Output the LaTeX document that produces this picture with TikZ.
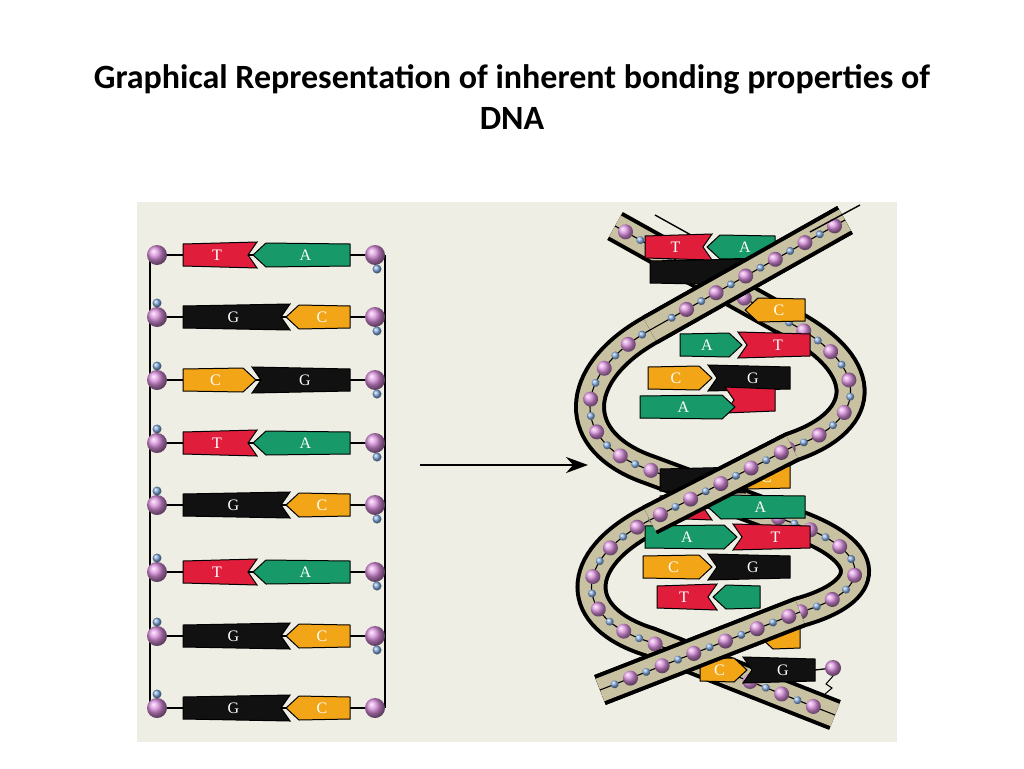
\documentclass[tikz,border=0pt]{standalone}
\usepackage{fontspec}
\setmainfont{Liberation Serif}
\newfontfamily\titlefont{Carlito}
\usetikzlibrary{arrows.meta,decorations.markings}
\definecolor{bg}{HTML}{EEEEE4}
\definecolor{tanr}{HTML}{C8C2A2}
\definecolor{bred}{HTML}{E01E3C}
\definecolor{bgreen}{HTML}{17996A}
\definecolor{borange}{HTML}{F2A516}
\definecolor{bblk}{HTML}{111111}
\definecolor{pinkb}{HTML}{D78CDA}
\definecolor{blueb}{HTML}{7FA6DC}
\tikzset{
 base/.style={draw=black,line width=1pt},
 lt/.style={text=white,font=\fontsize{16}{16}\selectfont},
 sph/.style={ball color=pinkb,draw=none},
 bd/.style={ball color=blueb,draw=none},
 bb/.style={line width=1.3pt,black},
 outer/.style={line width=32pt,black,line cap=butt},
 inner/.style={line width=24pt,tanr,line cap=butt},
 beads/.style={
   postaction={decorate,decoration={markings,
     mark=between positions 12pt and -10pt step 34pt with {\shade[sph] (0,0) circle (7.5);}}},
   postaction={decorate,decoration={markings,
     mark=between positions 29pt and -10pt step 34pt with {\shade[bd] (0,0) circle (4);}}}},
 spine/.style={line width=1.1pt,black}
}
\newcommand\NR[5]{\filldraw[base,fill=#4] (#1,#3-11)--(#2,#3-13)--(#2-9,#3)--(#2,#3+13)--(#1,#3+11)--cycle; \node[lt] at ({(#1+#2)/2-3},#3) {#5};}
\newcommand\NL[5]{\filldraw[base,fill=#4] (#1,#3-13)--(#2,#3-11)--(#2,#3+11)--(#1,#3+13)--(#1+9,#3)--cycle; \node[lt] at ({(#1+#2)/2+4},#3) {#5};}
\newcommand\PL[5]{\filldraw[base,fill=#4] (#1,#3)--(#1+13,#3-12)--(#2,#3-11)--(#2,#3+11)--(#1+13,#3+12)--cycle; \node[lt] at ({(#1+#2)/2+4},#3) {#5};}
\newcommand\PR[5]{\filldraw[base,fill=#4] (#1,#3-11)--(#2-13,#3-12)--(#2,#3)--(#2-13,#3+12)--(#1,#3+11)--cycle; \node[lt] at ({(#1+#2)/2-4},#3) {#5};}
\begin{document}
\begin{tikzpicture}[x=1pt,y=-1pt]
\useasboundingbox (0,0) rectangle (1024,768);
\fill[white] (0,0) rectangle (1024,768);
\node[font=\titlefont\bfseries\fontsize{34}{41}\selectfont,align=center] (title) at (512,97) {Graphical Representation of inherent bonding properties of\\DNA};
\fill[bg] (137,202) rectangle (897,742);
% ---------- left ladder ----------
\draw[bb] (150,255) -- (150,708);
\draw[bb] (385,255) -- (385,708);
\foreach \y in {255,317,380,443,505,572,636,708}{
  \draw[bb] (150,\y)--(350,\y); \draw[bb] (183,\y)--(385,\y);
}
\NR{183}{257}{255}{bred}{T}\PL{253}{350}{255}{bgreen}{A}
\NR{183}{290}{317}{bblk}{G}\PL{286}{350}{317}{borange}{C}
\PR{183}{256}{380}{borange}{C}\NL{252}{350}{380}{bblk}{G}
\NR{183}{257}{443}{bred}{T}\PL{253}{350}{443}{bgreen}{A}
\NR{183}{290}{505}{bblk}{G}\PL{286}{350}{505}{borange}{C}
\NR{183}{257}{572}{bred}{T}\PL{253}{350}{572}{bgreen}{A}
\NR{183}{290}{636}{bblk}{G}\PL{286}{350}{636}{borange}{C}
\NR{183}{290}{708}{bblk}{G}\PL{286}{350}{708}{borange}{C}
\foreach \y in {255,317,380,443,505,572,636,708}{
  \shade[sph] (157,\y) circle (10); \shade[sph] (375,\y) circle (10);
}
\foreach \y in {317,380,443,505,572,636,708}{\shade[bd] (157,\y-14) circle (4.5);}
\foreach \y in {255,317,380,443,505,572,636}{\shade[bd] (377,\y+14) circle (4.5);}
% arrow
\draw[line width=2.5pt,-{Stealth[length=22pt,width=16pt]}] (420,465) -- (588,465);
% ---------- helix: full strands ----------
\def\strA{(845,220) -- (650,330) .. controls (572,374) and (568,442) .. (650,470) -- (790,522) .. controls (878,552) and (872,592) .. (800,612) -- (600,690)}
\def\strB{(615,226) -- (780,318) .. controls (872,362) and (872,420) .. (792,447) -- (650,520) .. controls (572,560) and (572,618) .. (650,642) -- (835,715)}
\draw[line width=1.4pt] (655,215) -- (700,240);
\draw[outer] \strB; \draw[inner] \strB; \draw[spine,beads] \strB;
\draw[outer] \strA; \draw[inner] \strA; \draw[spine,beads] \strA;
% bases
\NR{650}{745}{272}{bblk}{}
\NR{645}{712}{247}{bred}{T}\PL{707}{775}{247}{bgreen}{A}
\PL{745}{805}{310}{borange}{C}
\PR{680}{742}{345}{bgreen}{A}\NL{738}{810}{345}{bred}{T}
\PR{648}{712}{378}{borange}{C}\NL{708}{790}{378}{bblk}{G}
\NL{725}{775}{400}{bred}{}
\PR{640}{735}{407}{bgreen}{A}
\NR{660}{745}{480}{bblk}{}
\PL{735}{790}{477}{borange}{C}
\NR{660}{712}{507}{bred}{T}\PL{708}{805}{507}{bgreen}{A}
\PR{645}{737}{537}{bgreen}{A}\NL{733}{810}{537}{bred}{T}
\PR{643}{712}{567}{borange}{C}\NL{708}{790}{567}{bblk}{G}
\NR{657}{717}{597}{bred}{T}\PL{713}{760}{597}{bgreen}{}
\PL{760}{800}{637}{borange}{}
\PR{700}{747}{670}{borange}{C}\NL{743}{815}{670}{bblk}{G}
\draw[bb] (815,670)--(833,668);
\shade[sph] (833,668) circle (8);
\draw[line width=1pt] (833,676)--(826,684)--(832,688)--(825,694);
% front segments
\def\fA{(845,220) -- (650,330)}
\def\fB{(792,447) -- (650,520)}
\def\fC{(800,612) -- (600,690)}
\foreach \p in {\fA,\fB,\fC}{\draw[outer] \p; \draw[inner] \p;}
\draw[spine,beads] (845,220) -- (650,330);
\draw[spine,beads] (792,447) -- (650,520);
\draw[spine,beads] (800,612) -- (600,690);
\draw[line width=1.4pt] (810,232) -- (860,205);
\end{tikzpicture}
\end{document}
